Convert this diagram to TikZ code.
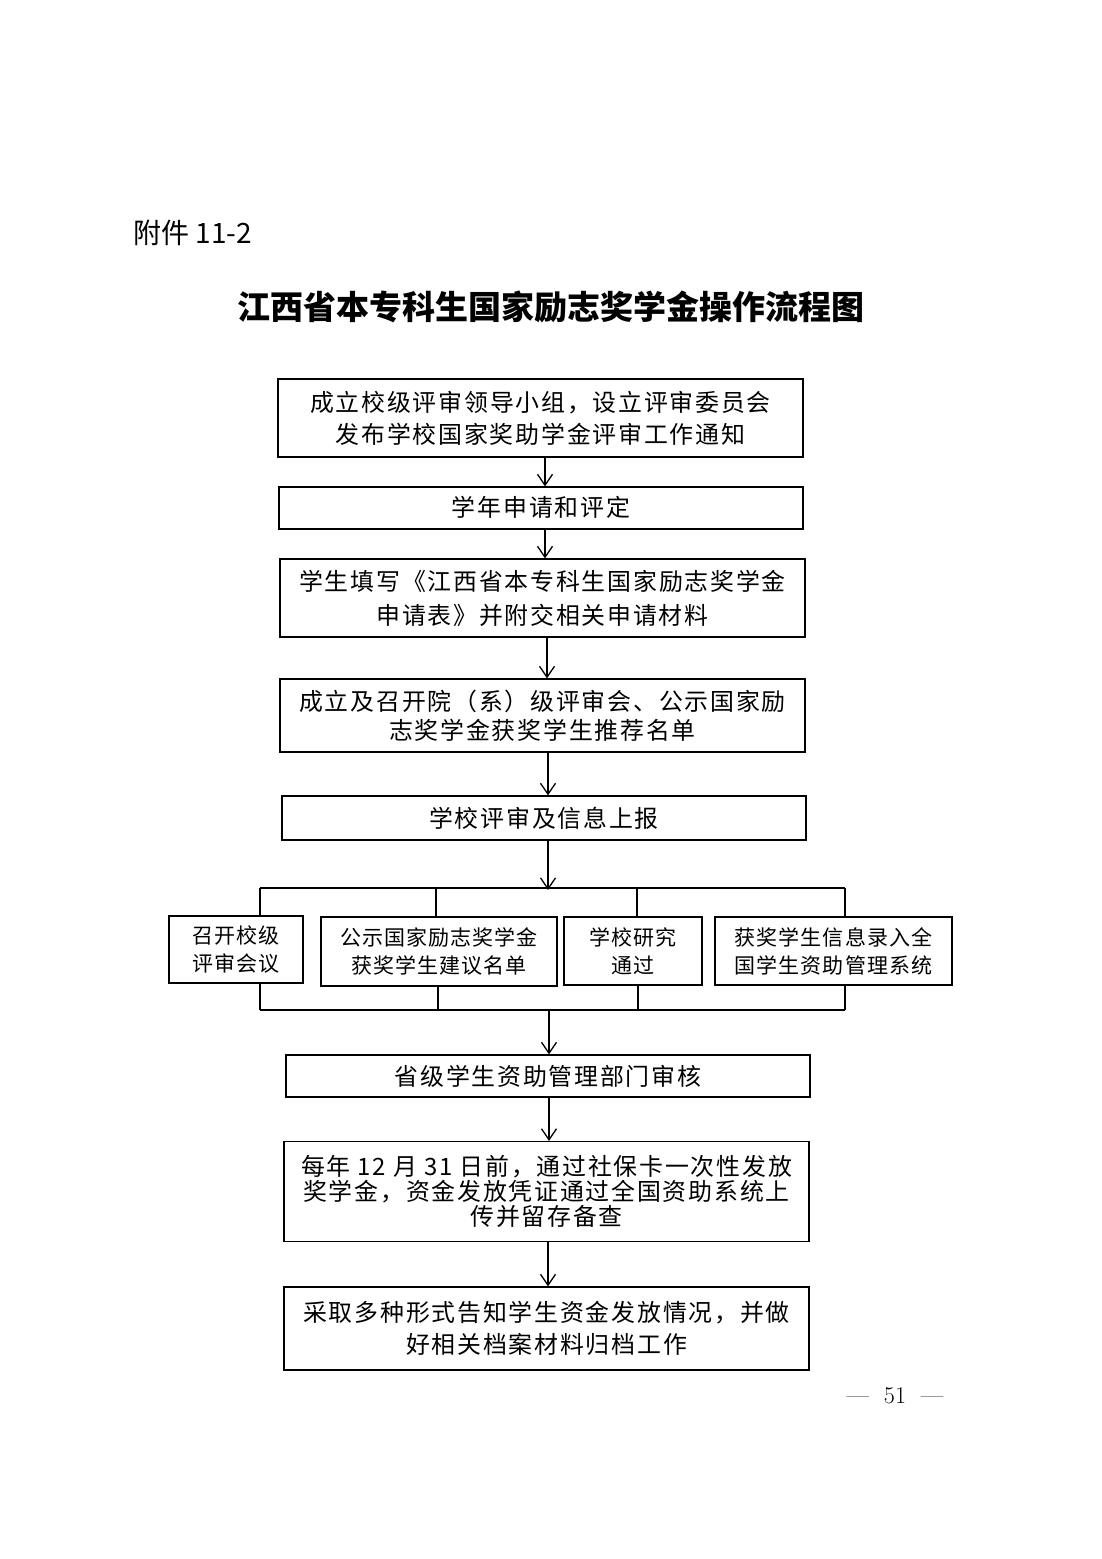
\documentclass[tikz,border=0pt]{standalone}
\usepackage{fontspec}
\usetikzlibrary{arrows.meta}
\newfontfamily\cjk{Noto Sans CJK SC}
\newfontfamily\cjkbody{Noto Sans CJK SC}[LetterSpace=7.5]
\newfontfamily\cjksmall{Noto Sans CJK SC}[LetterSpace=5]
\begin{document}
\begin{tikzpicture}[x=1pt,y=-1pt,
  box/.style={draw, line width=1.2pt, inner sep=0pt, align=center,
    font=\cjkbody\fontsize{23.9}{32}\selectfont},
  sbox/.style={draw, line width=1.2pt, inner sep=0pt, align=center,
    font=\cjksmall\fontsize{21}{28}\selectfont},
  arr/.style={-{Straight Barb[length=11pt,width=15pt]}, line width=1.3pt},
  ln/.style={line width=1.3pt}]
\fill[white] (0,0) rectangle (1102,1559);
\useasboundingbox (0,0) rectangle (1102,1559);

\node[anchor=west, inner sep=0pt, font=\cjk\fontsize{28}{30}\selectfont] (att) at (133,233) {附件 11-2};
\node[inner sep=0pt, font=\cjk\bfseries\fontsize{33}{40}\selectfont] (title) at (550.5,307) {江西省本专科生国家励志奖学金操作流程图};

\node[box, minimum width=525pt, minimum height=78pt] (b1) at (540.5,418)
  {成立校级评审领导小组，设立评审委员会\\发布学校国家奖助学金评审工作通知};
\node[box, minimum width=524pt, minimum height=42pt, text depth=3pt] (b2) at (541,508) {学年申请和评定};
\node[box, minimum width=525pt, minimum height=78pt, font=\cjkbody\fontsize{23.9}{34}\selectfont] (b3) at (542.5,598)
  {学生填写《江西省本专科生国家励志奖学金\\申请表》并附交相关申请材料};
\node[box, minimum width=525pt, minimum height=73pt, font=\cjkbody\fontsize{23.9}{29}\selectfont] (b4) at (542.5,715.5)
  {成立及召开院（系）级评审会、公示国家励\\志奖学金获奖学生推荐名单};
\node[box, minimum width=524pt, minimum height=44pt] (b5) at (544,818) {学校评审及信息上报};

\node[sbox, minimum width=134pt, minimum height=67pt] (A) at (236,949.5) {召开校级\\评审会议};
\node[sbox, minimum width=236pt, minimum height=69pt] (B) at (439,951.5) {公示国家励志奖学金\\获奖学生建议名单};
\node[sbox, minimum width=138pt, minimum height=68pt] (C) at (633,951) {学校研究\\通过};
\node[sbox, minimum width=237pt, minimum height=68pt] (D) at (833.5,951) {获奖学生信息录入全\\国学生资助管理系统};

\node[box, minimum width=524pt, minimum height=42pt] (b6) at (548,1076) {省级学生资助管理部门审核};
\node[box, minimum width=525pt, minimum height=100pt, font=\cjkbody\fontsize{23.9}{25}\selectfont] (b7) at (546.5,1191.5)
  {每年 12 月 31 日前，通过社保卡一次性发放\\奖学金，资金发放凭证通过全国资助系统上\\传并留存备查};
\node[box, minimum width=525pt, minimum height=83pt] (b8) at (546.5,1328.5)
  {采取多种形式告知学生资金发放情况，并做\\好相关档案材料归档工作};

\node[inner sep=0pt, font=\fontsize{24}{28}\selectfont] (pg) at (895,1396) {—\hspace{15pt}51\hspace{15pt}—};

% spine coordinates
\coordinate (s1) at (545,0);
\coordinate (s2) at (547,0);
\coordinate (s3) at (548,0);
\coordinate (s4) at (549,0);
\draw[arr] (b1.south -| s1) -- (b2.north -| s1);
\draw[arr] (b2.south -| s1) -- (b3.north -| s1);
\draw[arr] (b3.south -| s2) -- (b4.north -| s2);
\draw[arr] (b4.south -| s3) -- (b5.north -| s3);

% split
\coordinate (tl) at (260,888);
\coordinate (tr) at (845,888);
\coordinate (tm) at (548,888);
\coordinate (bl) at (260,1010);
\coordinate (br) at (845,1010);
\coordinate (bm) at (549,1010);
\coordinate (xB) at (436,0);
\coordinate (xC) at (637,0);
\coordinate (yB) at (438,0);
\coordinate (yC) at (638,0);
\draw[arr] (b5.south -| tm) -- ([yshift=-2pt]tm);
\draw[ln] (tl) -- (tr);
\draw[ln] (tl) -- (A.north -| tl);
\draw[ln] (tm -| xB) -- (B.north -| xB);
\draw[ln] (tm -| xC) -- (C.north -| xC);
\draw[ln] (tr) -- (D.north -| tr);
\draw[ln] (A.south -| bl) -- (bl);
\draw[ln] (B.south -| yB) -- (bm -| yB);
\draw[ln] (C.south -| yC) -- (bm -| yC);
\draw[ln] (D.south -| br) -- (br);
\draw[ln] (bl) -- (br);
\draw[arr] (bm) -- (b6.north -| bm);

\draw[arr] (b6.south -| s4) -- (b7.north -| s4);
\draw[arr] (b7.south -| s3) -- (b8.north -| s3);
\end{tikzpicture}
\end{document}
